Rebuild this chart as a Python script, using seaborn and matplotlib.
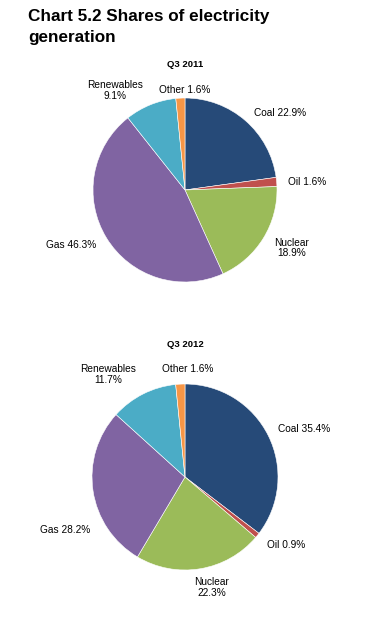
import matplotlib
matplotlib.use("Agg")
import matplotlib.pyplot as plt
import seaborn as sns

# Shares of electricity generation (%), Q3 2011 and Q3 2012
sources = ['Coal', 'Oil', 'Nuclear', 'Gas', 'Renewables', 'Other']
share_2011 = [22.9, 1.6, 18.9, 46.3, 9.1, 1.6]
share_2012 = [35.4, 0.9, 22.3, 28.2, 11.7, 1.6]
periods = ['Q3 2011', 'Q3 2012']

sns.set_theme(style='white')
plt.rcParams['font.family'] = ['Liberation Sans', 'DejaVu Sans']
plt.rcParams['text.color'] = 'black'

colors = sns.color_palette(['#264a78', '#c0504d', '#9bbb59', '#8064a2', '#4bacc6', '#f79646'])

# label placement, in pie-radius units: (x, y, ha, two lines?)
label_pos_2011 = [(0.75, 0.84, 'left', False), (1.12, 0.09, 'left', False),
                  (1.16, -0.63, 'center', True), (-0.96, -0.60, 'right', False),
                  (-0.76, 1.08, 'center', True), (0.0, 1.09, 'center', False)]
label_pos_2012 = [(1.0, 0.52, 'left', False), (0.88, -0.73, 'left', False),
                  (0.29, -1.19, 'center', True), (-1.02, -0.57, 'right', False),
                  (-0.83, 1.10, 'center', True), (0.03, 1.16, 'center', False)]

fig = plt.figure(figsize=(3.71, 6.19), dpi=100)

fig.text(28 / 371, 1 - 9 / 619, 'Chart 5.2 Shares of electricity\ngeneration',
         ha='left', va='top', fontsize=12.3, fontweight='bold', linespacing=1.5,
         color='black')


def draw_pie(ax, values, title, positions, title_y):
    ax.pie(values, colors=colors, startangle=90, counterclock=False,
           wedgeprops=dict(edgecolor='white', linewidth=0.4))
    for name, val, (x, y, ha, wrap) in zip(sources, values, positions):
        sep = '\n' if wrap else ' '
        ax.text(x, y, f'{name}{sep}{val:.1f}%', ha=ha, va='center',
                fontsize=7.3, linespacing=1.05, color='black')
    ax.text(0, title_y, title, ha='center', va='center', fontsize=6.8,
            fontweight='bold', color='black')
    ax.set_aspect('auto')
    ax.axis('off')


# top pie: centre (185, 190) px, radius 92 px
ax1 = fig.add_axes([0, (619 - 300) / 619, 1, 245 / 619])
draw_pie(ax1, share_2011, periods[0], label_pos_2011, 1.36)
ax1.set_xlim(-185 / 92, 186 / 92)
ax1.set_ylim(-110 / 92, 135 / 92)

# bottom pie: centre (185, 477) px, radius 93 px
ax2 = fig.add_axes([0, (619 - 610) / 619, 1, 275 / 619])
draw_pie(ax2, share_2012, periods[1], label_pos_2012, 1.42)
ax2.set_xlim(-185 / 93, 186 / 93)
ax2.set_ylim(-133 / 93, 142 / 93)

fig.savefig('out.png', dpi=100)
